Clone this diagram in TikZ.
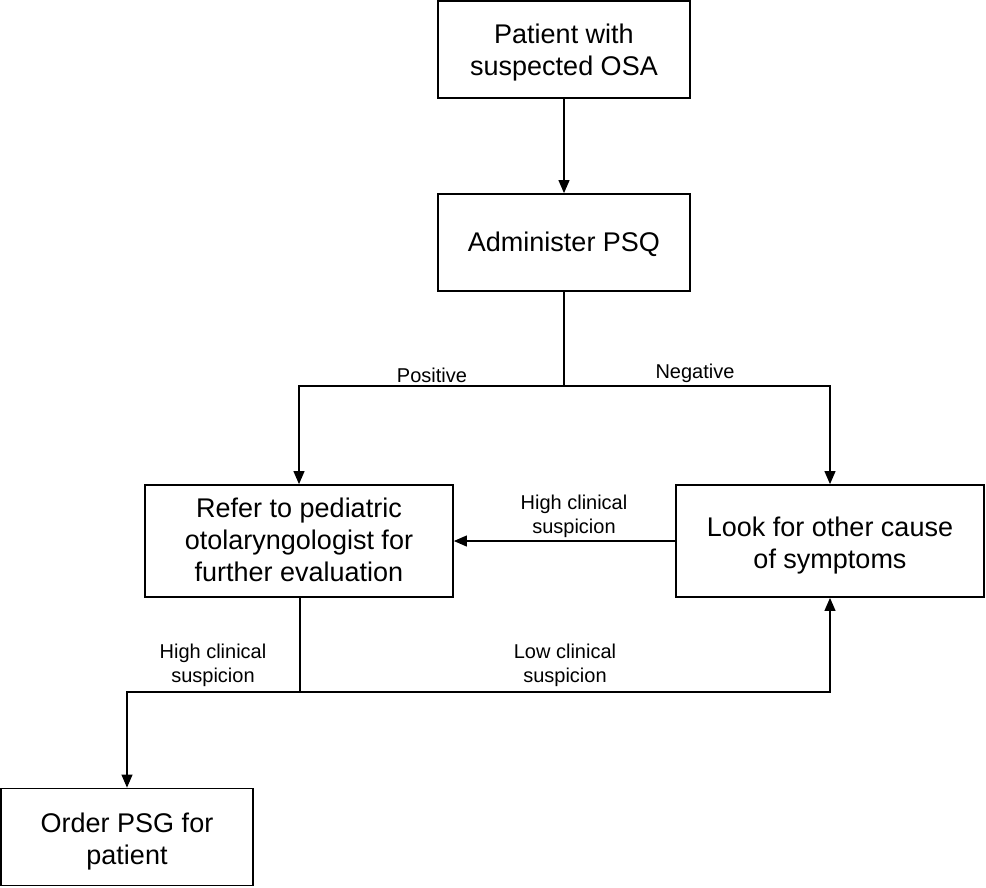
\documentclass[tikz,border=0pt]{standalone}
\usepackage{fontspec}
\setmainfont{Liberation Sans}
\usetikzlibrary{arrows.meta}
\newcommand\boxtext[2][-4pt]{\raisebox{#1}[\height][\depth]{\begin{tabular}{@{}c@{}}#2\end{tabular}}}
\begin{document}
\begin{tikzpicture}[x=1pt,y=-1pt,
 box/.style={draw, line width=1.8pt, align=center, font=\fontsize{27}{32}\selectfont, inner sep=0pt},
 conn/.style={line width=1.1pt},
 arr/.style={conn, -{Triangle[length=13pt,width=11pt]}},
 lbl/.style={align=center, font=\fontsize{20}{24}\selectfont, inner sep=0pt}]
\useasboundingbox (0,0) rectangle (986,887);
\node[box, minimum width=252pt, minimum height=97pt] (b1) at (564,49.5) {\boxtext{Patient with\\suspected OSA}};
\node[box, minimum width=252pt, minimum height=97pt] (b2) at (564,242.5) {\boxtext[-3pt]{Administer PSQ}};
\node[box, minimum width=308pt, minimum height=112pt] (b3) at (299,541) {\boxtext[-2pt]{Refer to pediatric\\otolaryngologist for\\further evaluation}};
\node[box, minimum width=308pt, minimum height=112pt] (b4) at (830,541) {\boxtext[-5pt]{Look for other cause\\of symptoms}};
\node[box, minimum width=252pt, minimum height=97pt] (b5) at (127,837) {\boxtext[-5pt]{Order PSG for\\patient}};
\coordinate (j1) at (564,386);
\coordinate (j2) at (300,692);
\draw[arr] (b1) -- (b2);
\draw[conn] (b2.south) -- (j1);
\draw[arr] (j1) -| (b3.north);
\draw[arr] (j1) -| (b4.north);
\draw[arr] (b4.west) -- (b3.east);
\draw[conn] (b3.south -| j2) -- (j2);
\draw[arr] (j2) -| (b4.south);
\draw[arr] (j2) -| (b5.north);
\node[lbl] (l1) at (432,375) {Positive};
\node[lbl] (l2) at (695,373) {Negative};
\node[lbl] (l3) at (574,516) {High clinical\\suspicion};
\node[lbl] (l4) at (213,665) {High clinical\\suspicion};
\node[lbl] (l5) at (565,665) {Low clinical\\suspicion};
\end{tikzpicture}
\end{document}
